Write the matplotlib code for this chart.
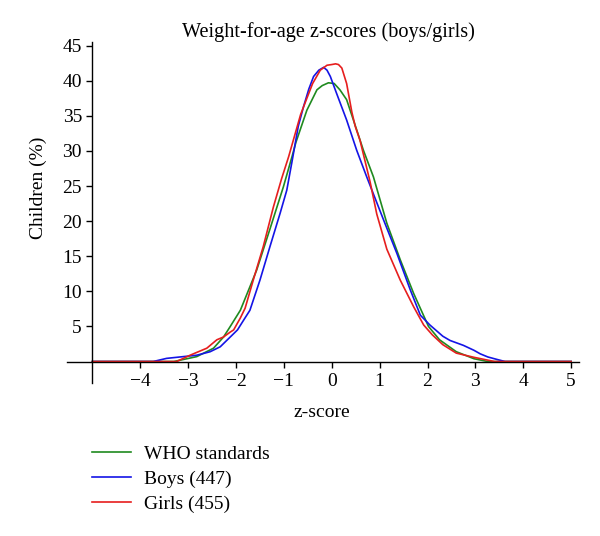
import matplotlib.pyplot as plt
import numpy as np

plt.rcParams['font.family'] = ['Liberation Serif', 'DejaVu Serif']

# curvas (z-score, % de criancas)
who_z = [-5.0, -3.3, -2.82, -2.47, -2.26, -2.12, -1.91, -1.85, -1.57, -1.29, -1.01, -0.83,
         -0.75, -0.52, -0.31, -0.2, -0.07, 0.05, 0.17, 0.31, 0.52, 0.66, 0.87, 1.15, 1.43,
         1.71, 2.02, 2.25, 2.6, 2.97, 3.26, 5.0]
who_y = [0.0, 0.0, 0.7, 1.9, 3.5, 5.0, 7.3, 8.3, 13.0, 18.9, 24.9, 29.2,
         31.2, 35.8, 38.7, 39.3, 39.7, 39.6, 38.7, 37.3, 33.0, 30.1, 26.3, 19.7, 14.5,
         9.7, 5.0, 3.1, 1.4, 0.4, 0.0, 0.0]

boys_z = [-5.0, -3.73, -3.45, -3.1, -2.82, -2.54, -2.33, -2.12, -1.97, -1.85, -1.71, -1.5,
          -1.29, -1.08, -0.94, -0.83, -0.7, -0.59, -0.48, -0.38, -0.27, -0.17, -0.1, -0.03,
          0.1, 0.31, 0.52, 0.73, 1.08, 1.36, 1.64, 1.85, 2.05, 2.32, 2.47, 2.75, 2.97, 3.1,
          3.26, 3.45, 3.62, 5.0]
boys_y = [0.0, 0.0, 0.45, 0.7, 0.9, 1.4, 2.1, 3.5, 4.5, 5.8, 7.3, 11.6,
          16.4, 21.1, 24.4, 28.5, 33.5, 36.3, 38.8, 40.6, 41.5, 41.9, 41.5, 40.6,
          38.2, 34.4, 30.1, 26.3, 20.2, 15.4, 10.2, 6.6, 5.2, 3.6, 3.0, 2.3, 1.6, 1.1,
          0.65, 0.3, 0.0, 0.0]

girls_z = [-5.0, -3.24, -2.96, -2.61, -2.4, -2.26, -2.12, -2.05, -1.91, -1.81, -1.64, -1.43,
           -1.22, -1.05, -0.9, -0.8, -0.65, -0.52, -0.4, -0.24, -0.1, 0.0, 0.08, 0.14, 0.21,
           0.31, 0.42, 0.49, 0.59, 0.8, 0.94, 1.15, 1.43, 1.71, 1.92, 2.1, 2.32, 2.6, 2.97,
           3.4, 5.0]
girls_y = [0.0, 0.0, 0.9, 1.9, 3.1, 3.5, 4.2, 4.5, 6.2, 7.6, 11.6, 16.4,
           22.0, 26.0, 29.2, 31.6, 35.2, 37.5, 39.6, 41.5, 42.2, 42.3, 42.4, 42.3, 41.8,
           39.6, 35.5, 33.5, 31.5, 25.6, 21.0, 16.0, 11.6, 7.8, 5.2, 3.8, 2.4, 1.2, 0.6,
           0.0, 0.0]

labels = ['WHO standards', 'Boys (447)', 'Girls (455)']
cores = ['#1f8a1f', '#1414e6', '#e61e1e']

fig = plt.figure(figsize=(6, 5.36), dpi=100)
ax = fig.add_axes([0.1117, 0.2862, 0.8538, 0.6353])

ax.plot(who_z, who_y, color=cores[0], lw=1.2, label=labels[0])
ax.plot(boys_z, boys_y, color=cores[1], lw=1.2, label=labels[1])
ax.plot(girls_z, girls_y, color=cores[2], lw=1.2, label=labels[2])

ax.set_xlim(-5.53, 5.17)
ax.set_ylim(-3, 45.5)

# eixos cruzando em (-5, 0)
ax.spines['left'].set_position(('data', -5))
ax.spines['bottom'].set_position(('data', 0))
ax.spines['top'].set_visible(False)
ax.spines['right'].set_visible(False)
for s in ['left', 'bottom']:
    ax.spines[s].set_linewidth(1.0)

ax.set_xticks(np.arange(-4, 6))
ax.set_yticks(np.arange(5, 50, 5))
ax.tick_params(axis='both', labelsize=14, width=1.0, length=4, direction='out')
ax.tick_params(axis='x', pad=4)

ax.set_title('Weight-for-age z-scores (boys/girls)', fontsize=14.6, pad=3.7, x=0.51)
ax.set_xlabel('z-score', fontsize=14)
ax.set_ylabel('Children (%)', fontsize=14)
ax.xaxis.set_label_coords(0.498, -0.063)
ax.yaxis.set_label_coords(-0.04, 0.572)

fig.legend(loc='upper left', bbox_to_anchor=(0.14, 0.183), frameon=False, fontsize=14,
           handlelength=2.0, handletextpad=0.7, labelspacing=0.36, borderaxespad=0)

fig.savefig('out.png', dpi=100)
